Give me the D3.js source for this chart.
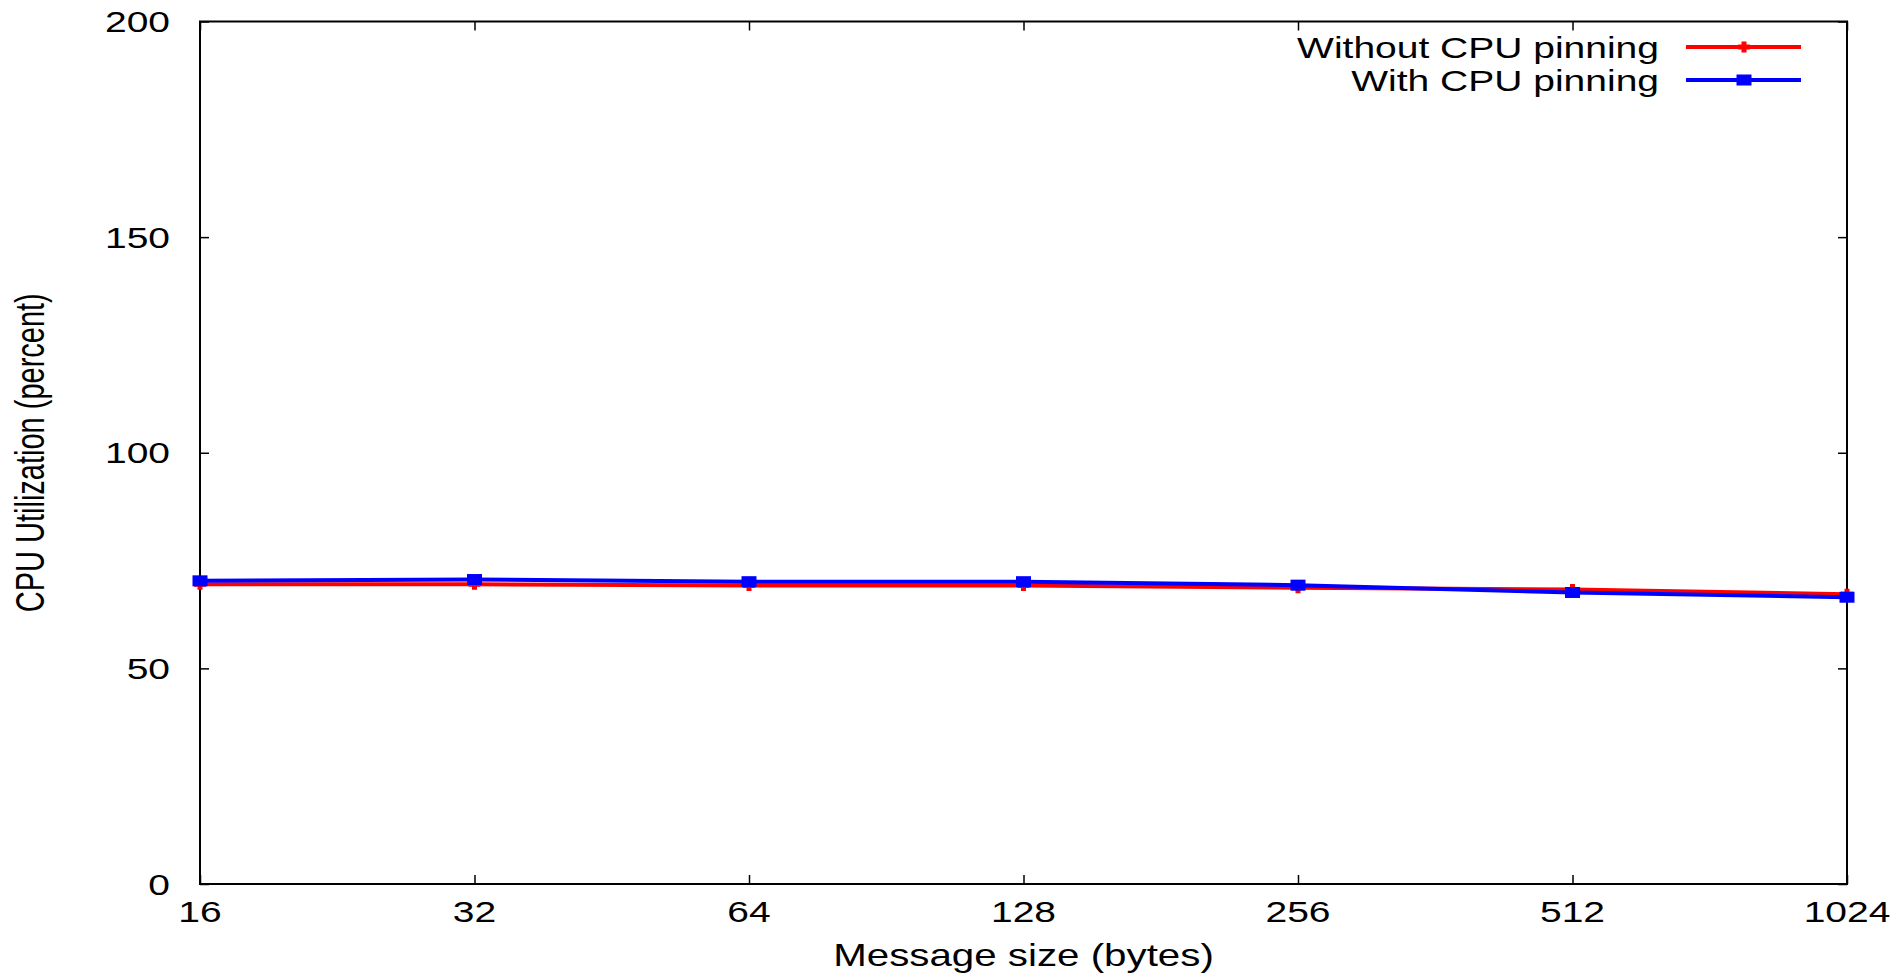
<!DOCTYPE html>
<html>
<head>
<meta charset="utf-8">
<script src="https://cdn.jsdelivr.net/npm/d3@7"></script>
<style>
  body { margin: 0; background: #fff; }
  svg { display: block; font-family: "Liberation Sans", Arial, Helvetica, sans-serif; }
</style>
</head>
<body>
<div id="chart"></div>
<script>
// message sizes (bytes) on the x axis
const sizes = [16, 32, 64, 128, 256, 512, 1024];
const yTicks = [0, 50, 100, 150, 200];
// CPU utilization (percent)
const withoutPinning = [69.5, 69.5, 69.2, 69.2, 68.7, 68.3, 67.2];
const withPinning = [70.3, 70.6, 70.1, 70.1, 69.3, 67.6, 66.5];
const seriesNames = ['Without CPU pinning', 'With CPU pinning'];

const width = 1901;
const height = 973;
const margin = { top: 21.5, right: 54, bottom: 89, left: 200 };
const stretch = 1.3; // the original is widened, so text is too

const svg = d3.select('#chart').append('svg')
  .attr('width', width)
  .attr('height', height);

const x = d3.scaleLog().base(2)
  .domain([16, 1024])
  .range([margin.left, width - margin.right]);

const y = d3.scaleLinear()
  .domain([0, 200])
  .range([height - margin.bottom, margin.top]);

// ticks point inwards on all four sides, gnuplot style
const tickLen = 9;
const axisStyle = (g) => {
  g.select('.domain').remove();
  g.selectAll('.tick line').attr('stroke', '#000').attr('stroke-width', 1.5);
  g.selectAll('.tick text').remove();
};

svg.append('g')
  .attr('transform', `translate(0,${y(0)})`)
  .call(d3.axisBottom(x).tickValues(sizes).tickSize(-tickLen))
  .call(axisStyle);
svg.append('g')
  .attr('transform', `translate(0,${y(200)})`)
  .call(d3.axisTop(x).tickValues(sizes).tickSize(-tickLen))
  .call(axisStyle);
svg.append('g')
  .attr('transform', `translate(${x(16)},0)`)
  .call(d3.axisLeft(y).tickValues(yTicks).tickSize(-tickLen))
  .call(axisStyle);
svg.append('g')
  .attr('transform', `translate(${x(1024)},0)`)
  .call(d3.axisRight(y).tickValues(yTicks).tickSize(-tickLen))
  .call(axisStyle);

// frame
svg.append('rect')
  .attr('x', x(16))
  .attr('y', y(200))
  .attr('width', x(1024) - x(16))
  .attr('height', y(0) - y(200))
  .attr('fill', 'none')
  .attr('stroke', '#000')
  .attr('stroke-width', 2);

// tick labels
svg.append('g').selectAll('text')
  .data(sizes)
  .join('text')
  .attr('transform', (d) => `translate(${x(d)},922) scale(${stretch},1)`)
  .attr('text-anchor', 'middle')
  .style('font-size', '30px')
  .text((d) => d);

svg.append('g').selectAll('text')
  .data(yTicks)
  .join('text')
  .attr('transform', (d) => `translate(${x(16) - 30},${y(d)}) scale(${stretch},1)`)
  .attr('text-anchor', 'end')
  .attr('dy', '0.35em')
  .style('font-size', '30px')
  .text((d) => d);

// axis titles
svg.append('text')
  .attr('transform', `translate(${(x(16) + x(1024)) / 2},966) scale(${stretch},1)`)
  .attr('text-anchor', 'middle')
  .style('font-size', '31px')
  .text('Message size (bytes)');

svg.append('text')
  .attr('transform', `translate(44,${(y(0) + y(200)) / 2}) scale(1.38,1) rotate(-90)`)
  .attr('text-anchor', 'middle')
  .style('font-size', '29px')
  .text('CPU Utilization (percent)');

// series
const line = d3.line()
  .x((d, i) => x(sizes[i]))
  .y((d) => y(d));

const plusPath = 'M0,-5.5V5.5M-6,0H6';

const drawRed = (g, pts) => {
  g.selectAll('path.mk')
    .data(pts)
    .join('path')
    .attr('class', 'mk')
    .attr('transform', (d) => `translate(${d[0]},${d[1]})`)
    .attr('d', plusPath)
    .attr('stroke', '#ff0000')
    .attr('stroke-width', 5)
    .attr('fill', 'none');
};

const drawBlue = (g, pts) => {
  g.selectAll('rect.mk')
    .data(pts)
    .join('rect')
    .attr('class', 'mk')
    .attr('x', (d) => d[0] - 7.5)
    .attr('y', (d) => d[1] - 5.5)
    .attr('width', 15)
    .attr('height', 11)
    .attr('fill', '#0000ff');
};

const redG = svg.append('g');
redG.append('path')
  .datum(withoutPinning)
  .attr('d', line)
  .attr('fill', 'none')
  .attr('stroke', '#ff0000')
  .attr('stroke-width', 4);
drawRed(redG, withoutPinning.map((d, i) => [x(sizes[i]), y(d)]));

const blueG = svg.append('g');
blueG.append('path')
  .datum(withPinning)
  .attr('d', line)
  .attr('fill', 'none')
  .attr('stroke', '#0000ff')
  .attr('stroke-width', 4);
drawBlue(blueG, withPinning.map((d, i) => [x(sizes[i]), y(d)]));

// legend
const legendRows = [47, 80];
const legend = svg.append('g');
seriesNames.forEach((name, i) => {
  const ly = legendRows[i];
  const color = i === 0 ? '#ff0000' : '#0000ff';
  legend.append('text')
    .attr('transform', `translate(1659,${ly}) scale(${stretch},1)`)
    .attr('text-anchor', 'end')
    .attr('dy', '0.35em')
    .style('font-size', '30px')
    .text(name);
  legend.append('line')
    .attr('x1', 1686)
    .attr('x2', 1801)
    .attr('y1', ly)
    .attr('y2', ly)
    .attr('stroke', color)
    .attr('stroke-width', 4);
  if (i === 0) drawRed(legend.append('g'), [[1744, ly]]);
  else drawBlue(legend.append('g'), [[1744, ly]]);
});
</script>
</body>
</html>
